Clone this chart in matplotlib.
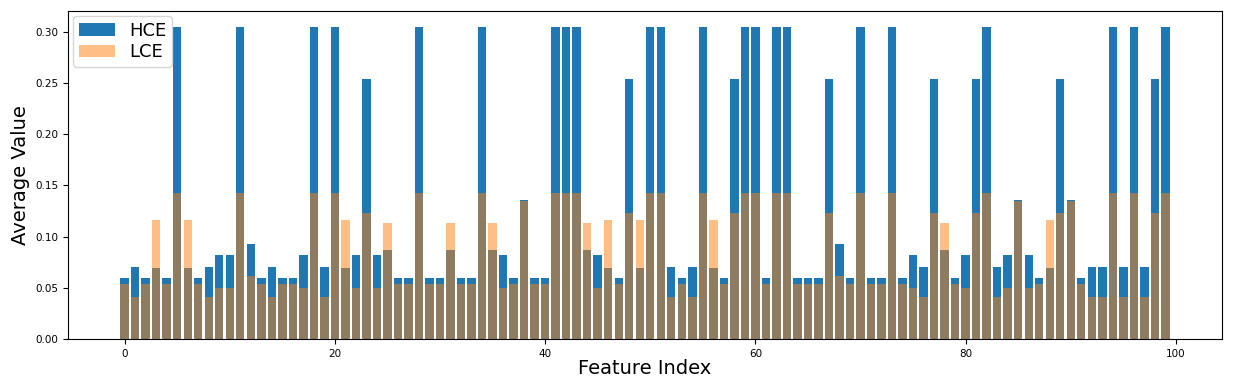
import matplotlib
matplotlib.use("Agg")
import matplotlib.pyplot as plt
import numpy as np

# average value per feature for the two groups
hce = [0.06, 0.07, 0.06, 0.069, 0.06, 0.305, 0.069, 0.06, 0.07, 0.0825,
       0.0825, 0.305, 0.0925, 0.06, 0.07, 0.06, 0.06, 0.0825, 0.305, 0.07,
       0.305, 0.069, 0.0825, 0.254, 0.0825, 0.0866, 0.06, 0.06, 0.305, 0.06,
       0.06, 0.0866, 0.06, 0.06, 0.305, 0.0866, 0.0825, 0.06, 0.1355, 0.06,
       0.06, 0.305, 0.305, 0.305, 0.0866, 0.0825, 0.069, 0.06, 0.254, 0.069,
       0.305, 0.305, 0.07, 0.06, 0.07, 0.305, 0.069, 0.06, 0.254, 0.305,
       0.305, 0.06, 0.305, 0.305, 0.06, 0.06, 0.06, 0.254, 0.0925, 0.06,
       0.305, 0.06, 0.06, 0.305, 0.06, 0.0825, 0.07, 0.254, 0.0866, 0.06,
       0.0825, 0.254, 0.305, 0.07, 0.0825, 0.1355, 0.0825, 0.06, 0.069, 0.254,
       0.1355, 0.06, 0.07, 0.07, 0.305, 0.07, 0.305, 0.07, 0.254, 0.305]

lce = [0.054, 0.041, 0.054, 0.116, 0.054, 0.1425, 0.116, 0.054, 0.041, 0.05,
       0.05, 0.1425, 0.062, 0.054, 0.041, 0.054, 0.054, 0.05, 0.1425, 0.041,
       0.1425, 0.116, 0.05, 0.123, 0.05, 0.113, 0.054, 0.054, 0.1425, 0.054,
       0.054, 0.113, 0.054, 0.054, 0.1425, 0.113, 0.05, 0.054, 0.1345, 0.054,
       0.054, 0.1425, 0.1425, 0.1425, 0.113, 0.05, 0.116, 0.054, 0.123, 0.116,
       0.1425, 0.1425, 0.041, 0.054, 0.041, 0.1425, 0.116, 0.054, 0.123, 0.1425,
       0.1425, 0.054, 0.1425, 0.1425, 0.054, 0.054, 0.054, 0.123, 0.062, 0.054,
       0.1425, 0.054, 0.054, 0.1425, 0.054, 0.05, 0.041, 0.123, 0.113, 0.054,
       0.05, 0.123, 0.1425, 0.041, 0.05, 0.1345, 0.05, 0.054, 0.116, 0.123,
       0.1345, 0.054, 0.041, 0.041, 0.1425, 0.041, 0.1425, 0.041, 0.123, 0.1425]

features = np.arange(len(hce))

fig = plt.figure(figsize=(12.36, 3.78), dpi=100)
ax = fig.add_axes([0.055, 0.103, 0.9337, 0.868])

ax.bar(features, hce, color="tab:blue", label="HCE")
ax.bar(features, lce, color="tab:orange", alpha=0.5, label="LCE")

ax.tick_params(labelsize=7.5)
ax.set_xlabel("Feature Index", fontsize=14, labelpad=0)
ax.set_ylabel("Average Value", fontsize=14)
ax.legend(loc="upper left", fontsize=13, borderaxespad=0.3,
          handlelength=2.0, borderpad=0.3, labelspacing=0.2)

plt.savefig("out.png", dpi=100)
